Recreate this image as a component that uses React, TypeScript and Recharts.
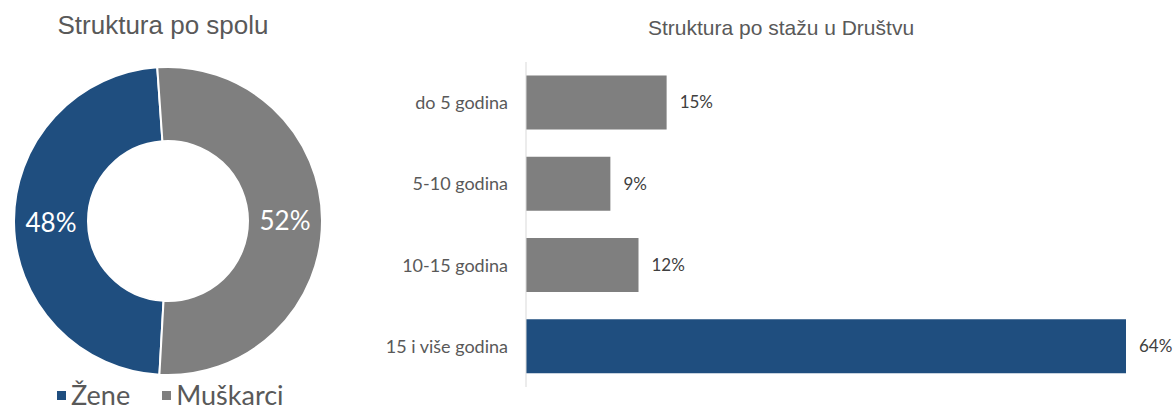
import { Bar, BarChart, Cell, LabelList, Legend, Pie, PieChart, XAxis, YAxis } from "recharts";

const genderNames = ["Žene", "Muškarci"];
const genderShares = [48, 52];

const tenureNames = ["do 5 godina", "5-10 godina", "10-15 godina", "15 i više godina"];
const tenureShares = [15, 9, 12, 64];

const BLUE = "#1f4e7f";
const GREY = "#7f7f7f";
const TEXT = "#595959";
const BODY_FONT = "Lato, 'Open Sans', sans-serif";
const TITLE_FONT = "'Liberation Sans', Arial, sans-serif";

const genderData = genderNames.map((name, i) => ({ name, value: genderShares[i] }));
const tenureData = tenureNames.map((name, i) => ({ name, value: tenureShares[i] }));
const genderColors = [BLUE, GREY];
const tenureColors = [GREY, GREY, GREY, BLUE];

const RAD = Math.PI / 180;

function ringLabel(props: any) {
  const { cx, cy, midAngle, innerRadius, outerRadius, value } = props;
  const r = (innerRadius + outerRadius) / 2;
  const x = cx + r * Math.cos(-midAngle * RAD);
  const y = cy + r * Math.sin(-midAngle * RAD);
  return (
    <text x={x} y={y} fill="#ffffff" fontSize={26} fontFamily={BODY_FONT} textAnchor="middle" dominantBaseline="central">
      {`${value}%`}
    </text>
  );
}

function GenderLegend() {
  return (
    <div style={{ display: "flex", gap: 32, fontFamily: BODY_FONT, fontSize: 27, color: TEXT, lineHeight: "30px" }}>
      {genderNames.map((name, i) => (
        <span key={name} style={{ display: "flex", alignItems: "center" }}>
          <span style={{ width: 9, height: 9, background: genderColors[i], marginRight: 5, display: "inline-block" }} />
          {name}
        </span>
      ))}
    </div>
  );
}

export default function App() {
  return (
    <div style={{ position: "absolute", left: 0, top: 0, width: 1175, height: 412, background: "#ffffff", overflow: "hidden" }}>
      <div style={{ position: "absolute", left: 0, top: 10, width: 326, textAlign: "center", fontFamily: TITLE_FONT, fontSize: 26, color: TEXT }}>
        Struktura po spolu
      </div>
      <div style={{ position: "absolute", left: 0, top: 0 }}>
        <PieChart width={330} height={412}>
          <Pie
            data={genderData}
            dataKey="value"
            nameKey="name"
            cx={163}
            cy={216}
            innerRadius={80}
            outerRadius={154}
            startAngle={-93.2}
            endAngle={-453.2}
            stroke="#ffffff"
            strokeWidth={2}
            label={ringLabel}
            labelLine={false}
            isAnimationActive={false}
          >
            {genderData.map((d, i) => (
              <Cell key={d.name} fill={genderColors[i]} />
            ))}
          </Pie>
          <Legend content={<GenderLegend />} wrapperStyle={{ left: 57, top: 380, width: 280 }} />
        </PieChart>
      </div>

      <div style={{ position: "absolute", left: 596, top: 16, width: 370, textAlign: "center", fontFamily: TITLE_FONT, fontSize: 21, color: TEXT }}>
        Struktura po stažu u Društvu
      </div>
      <div style={{ position: "absolute", left: 340, top: 0 }}>
        <BarChart
          layout="vertical"
          width={835}
          height={412}
          data={tenureData}
          margin={{ top: 62, right: 49, bottom: 25, left: 0 }}
          barCategoryGap="16.5%"
        >
          <XAxis type="number" domain={[0, 64]} hide />
          <YAxis
            type="category"
            dataKey="name"
            width={186}
            axisLine={{ stroke: "#d9d9d9" }}
            tickLine={false}
            tickSize={0}
            tickMargin={18}
            tick={{ fill: TEXT, fontSize: 18, fontFamily: BODY_FONT }}
          />
          <Bar dataKey="value" isAnimationActive={false}>
            {tenureData.map((d, i) => (
              <Cell key={d.name} fill={tenureColors[i]} />
            ))}
            <LabelList
              dataKey="value"
              position="right"
              offset={13}
              formatter={(v: any) => `${v}%`}
              style={{ fill: "#404040", fontSize: 17, fontFamily: BODY_FONT }}
            />
          </Bar>
        </BarChart>
      </div>
    </div>
  );
}
